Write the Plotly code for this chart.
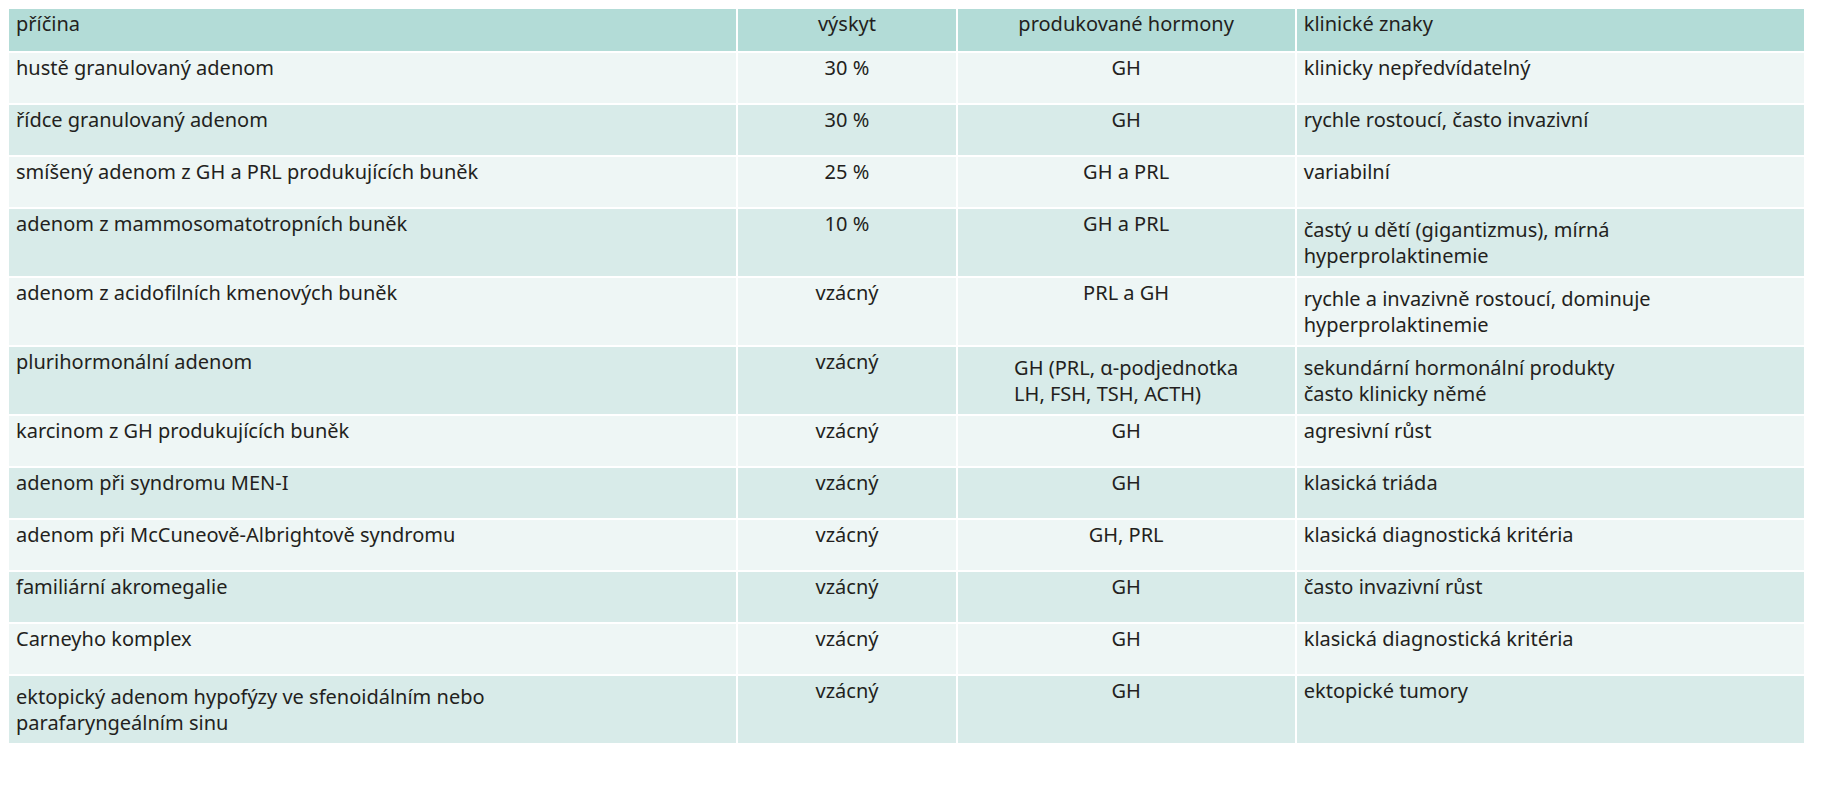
import plotly.graph_objects as go

headers = ["příčina", "výskyt", "produkované hormony", "klinické znaky"]
pricina = ["hustě granulovaný adenom", "řídce granulovaný adenom",
           "smíšený adenom z GH a PRL produkujících buněk", "adenom z mammosomatotropních buněk",
           "adenom z acidofilních kmenových buněk", "plurihormonální adenom",
           "karcinom z GH produkujících buněk", "adenom při syndromu MEN-I",
           "adenom při McCuneově-Albrightově syndromu", "familiární akromegalie",
           "Carneyho komplex",
           "ektopický adenom hypofýzy ve sfenoidálním nebo<br>parafaryngeálním sinu"]
vyskyt = ["30 %", "30 %", "25 %", "10 %"] + ["vzácný"] * 8
hormony = ["GH", "GH", "GH a PRL", "GH a PRL", "PRL a GH",
           "GH (PRL, α-podjednotka<br>LH, FSH, TSH, ACTH)", "GH", "GH", "GH, PRL", "GH", "GH", "GH"]
znaky = ["klinicky nepředvídatelný", "rychle rostoucí, často invazivní", "variabilní",
         "častý u dětí (gigantizmus), mírná<br>hyperprolaktinemie",
         "rychle a invazivně rostoucí, dominuje<br>hyperprolaktinemie",
         "sekundární hormonální produkty<br>často klinicky němé",
         "agresivní růst", "klasická triáda", "klasická diagnostická kritéria",
         "často invazivní růst", "klasická diagnostická kritéria", "ektopické tumory"]

fills = ["#eef6f5" if i % 2 == 0 else "#d8ebe9" for i in range(len(pricina))]
font = dict(family="Noto Sans", size=20, color="#231f20")

fig = go.Figure(go.Table(
    columnwidth=[729, 219, 339, 509],
    header=dict(values=headers, fill_color="#b3dcd7", line=dict(color="white", width=2),
                align=["left", "center", "center", "left"], font=font, height=44),
    cells=dict(values=[pricina, vyskyt, hormony, znaky], fill_color=[fills] * 4,
               line=dict(color="white", width=2),
               align=["left", "center", "center", "left"], font=font, height=52),
))
fig.update_layout(width=1825, height=800, margin=dict(l=0, r=28, t=0, b=0),
                  paper_bgcolor="white")
fig.write_html("out.html")
